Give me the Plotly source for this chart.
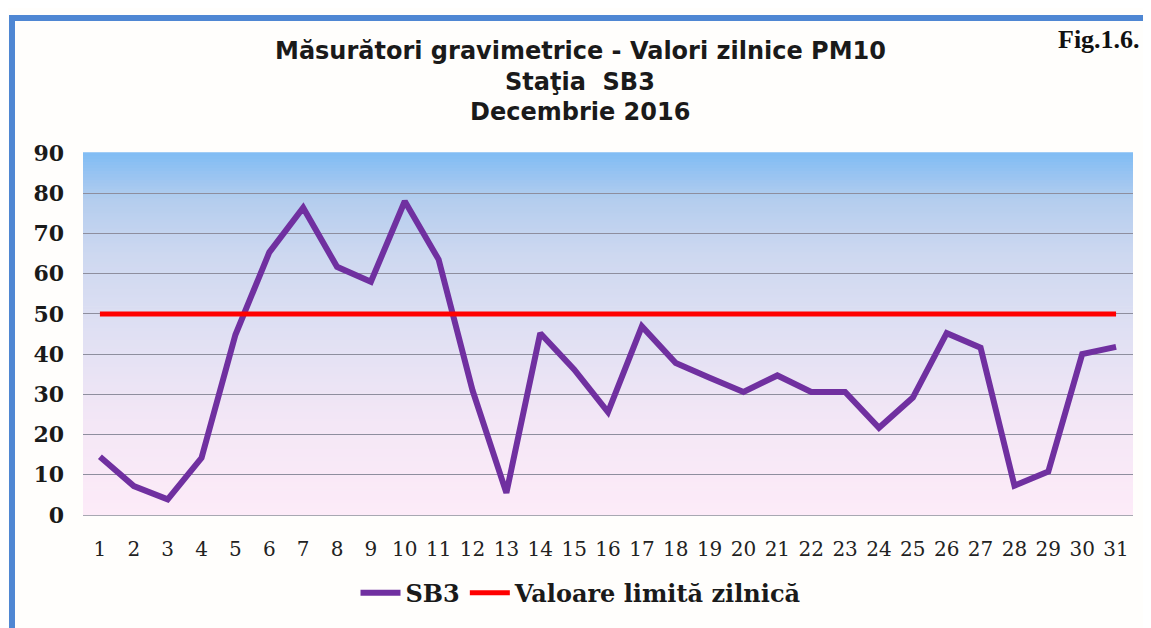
import plotly.graph_objects as go

days = [str(d) for d in range(1, 32)]
sb3 = [14.5, 7.2, 3.9, 14.2, 44.8, 65.3, 76.4, 61.7, 58.0, 78.0, 63.5, 31.0, 5.5,
       45.2, 36.2, 25.6, 46.9, 37.8, 34.1, 30.6, 34.7, 30.6, 30.6, 21.7, 29.2,
       45.2, 41.6, 7.3, 10.8, 40.0, 41.8]
limit = [50] * 31
y_ticks = [0, 10, 20, 30, 40, 50, 60, 70, 80, 90]

title_lines = ["Măsurători gravimetrice - Valori zilnice PM10", "Staţia  SB3", "Decembrie 2016"]

OFF = 8  # default page body margin
W, H = 1151 - OFF, 628 - OFF
L, R, T, B = 83 - OFF, 18, 153 - OFF, 109
PW, PH = W - L - R, H - T - B


def px_x(p):  # page pixel -> paper x
    return (p - OFF - L) / PW


def px_y(p):  # page pixel -> paper y
    return (H - B - (p - OFF)) / PH


fig = go.Figure()
fig.add_trace(go.Scatter(x=days, y=sb3, mode="lines", name="SB3",
                         line=dict(color="#7030a0", width=6)))
fig.add_trace(go.Scatter(x=days, y=limit, mode="lines", name="Valoare limită zilnică",
                         line=dict(color="#ff0000", width=5)))

# gradient background of the plot area
stops = [(0.0, (253, 235, 248)), (0.25, (244, 231, 246)), (0.5, (224, 224, 243)),
         (0.72, (205, 216, 240)), (0.87, (180, 205, 238)), (1.0, (128, 188, 244))]


def col(t):
    for (a, ca), (b, cb) in zip(stops[:-1], stops[1:]):
        if a <= t <= b:
            f = (t - a) / (b - a)
            c = [round(ca[i] + (cb[i] - ca[i]) * f) for i in range(3)]
            return "rgb(%d,%d,%d)" % tuple(c)
    return "rgb(%d,%d,%d)" % stops[-1][1]


shapes = []
n = 120
for i in range(n):
    t0, t1 = i / n, (i + 1) / n
    shapes.append(dict(type="rect", xref="x domain", yref="y domain", x0=0, x1=1,
                       y0=t0, y1=t1 + 0.002, fillcolor=col((t0 + t1) / 2),
                       line=dict(width=0), layer="below"))

# outer blue frame (top + left)
shapes.append(dict(type="rect", xref="paper", yref="paper",
                   x0=px_x(12), x1=px_x(1170), y0=px_y(700), y1=px_y(16.5),
                   line=dict(color="#4f87d3", width=6), fillcolor="rgba(0,0,0,0)"))

annotations = []
for txt, yp in zip(title_lines, [50, 81, 112]):
    annotations.append(dict(text=txt, xref="paper", yref="paper", x=px_x(580), y=px_y(yp),
                            xanchor="center", yanchor="middle", showarrow=False,
                            font=dict(family="DejaVu Sans", size=24, color="#1a1a1a",
                                      weight="bold")))
annotations.append(dict(text="Fig.1.6.", xref="paper", yref="paper", x=px_x(1142), y=px_y(38),
                        xanchor="right", yanchor="middle", showarrow=False,
                        font=dict(family="Liberation Serif", size=26, color="#111",
                                  weight="bold")))

fig.update_layout(
    width=W, height=H,
    margin=dict(l=L, r=R, t=T, b=B),
    paper_bgcolor="#fffefc",
    plot_bgcolor="rgba(0,0,0,0)",
    shapes=shapes,
    annotations=annotations,
    showlegend=True,
    legend=dict(orientation="h", x=px_x(581), xanchor="center", y=px_y(598), yanchor="middle",
                font=dict(family="DejaVu Serif", size=24, color="#1a1a1a", weight="bold"),
                bgcolor="rgba(0,0,0,0)", itemwidth=40),
    xaxis=dict(type="category", range=[-0.5, 30.5],
               tickfont=dict(family="DejaVu Serif", size=20, color="#222"),
               showgrid=False, showline=True, linecolor="#a8a8b2", linewidth=1,
               ticks="", ticklabelstandoff=16, fixedrange=True),
    yaxis=dict(range=[0, 90], tickvals=y_ticks,
               tickfont=dict(family="DejaVu Serif", size=22, color="#1a1a1a", weight="bold"),
               showgrid=True, gridcolor="#8e8e9e", gridwidth=1, zeroline=False,
               showline=False, ticks="", ticklabelstandoff=18),
)

fig.write_html("out.html")
